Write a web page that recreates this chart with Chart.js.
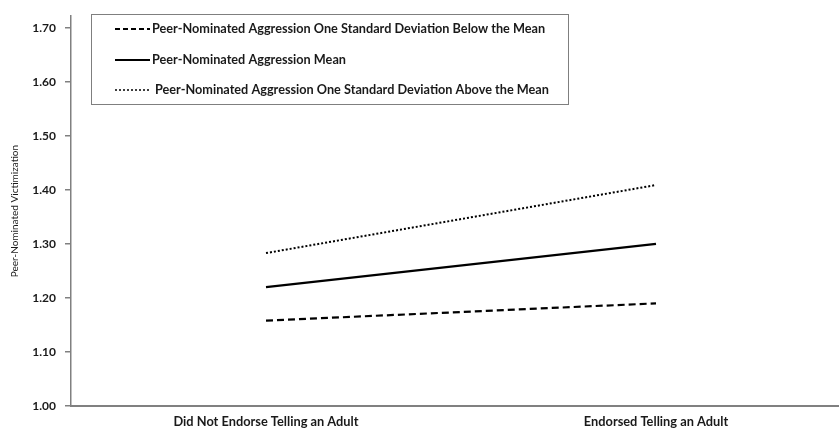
<!DOCTYPE html>
<html>
<head>
<meta charset="utf-8">
<script src="https://cdn.jsdelivr.net/npm/chart.js@4/dist/chart.umd.min.js"></script>
<style>
  html, body { margin: 0; padding: 0; background: #fff; }
  #wrap { width: 839px; height: 431px; overflow: hidden; position: relative; }
  #box { width: 870px; height: 431px; }
</style>
</head>
<body>
<div id="wrap"><div id="box"><canvas id="c" width="870" height="431"></canvas></div></div>
<script>
// Categories and series (peer-nominated victimization means)
const categories = ['Did Not Endorse Telling an Adult', 'Endorsed Telling an Adult'];
const seriesNames = [
  'Peer-Nominated Aggression One Standard Deviation Below the Mean',
  'Peer-Nominated Aggression Mean',
  'Peer-Nominated Aggression One Standard Deviation Above the Mean'
];
const belowMean = [1.158, 1.19];
const atMean = [1.22, 1.30];
const aboveMean = [1.283, 1.409];
const yTickValues = [1.0, 1.1, 1.2, 1.3, 1.4, 1.5, 1.6, 1.7];
const yAxisTitle = 'Peer-Nominated Victimization';

const FONT = 'Lato, "Open Sans", sans-serif';
const dashStyles = [[7, 4], [], [2, 2]];
const legendDash = [[5, 3], [], [2, 2]];

// Boxed legend drawn inside the plot area
const boxLegend = {
  id: 'boxLegend',
  afterDraw(chart) {
    const ctx = chart.ctx;
    ctx.save();
    ctx.strokeStyle = '#7f7f7f';
    ctx.lineWidth = 1;
    ctx.strokeRect(91.5, 14.5, 477, 90);
    const rows = [29, 60, 90];
    chart.data.datasets.forEach((ds, i) => {
      const y = rows[i];
      ctx.beginPath();
      ctx.setLineDash(legendDash[i]);
      ctx.lineWidth = i === 2 ? 1.5 : 2;
      ctx.strokeStyle = '#000';
      ctx.moveTo(115, y);
      ctx.lineTo(150, y);
      ctx.stroke();
      ctx.setLineDash([]);
      ctx.fillStyle = '#1a1a1a';
      ctx.font = 'bold 12.7px ' + FONT;
      ctx.textBaseline = 'middle';
      ctx.textAlign = 'left';
      ctx.fillText(ds.label, i === 2 ? 155 : 152, y);
    });
    ctx.restore();
  }
};

const mk = (label, data, i) => ({
  label, data,
  borderColor: '#000',
  borderWidth: i === 2 ? 2 : 2.2,
  borderDash: dashStyles[i],
  pointRadius: 0,
  fill: false,
  tension: 0
});

new Chart(document.getElementById('c'), {
  type: 'line',
  data: {
    labels: categories,
    datasets: [
      mk(seriesNames[0], belowMean, 0),
      mk(seriesNames[1], atMean, 1),
      mk(seriesNames[2], aboveMean, 2)
    ]
  },
  options: {
    responsive: false,
    animation: false,
    devicePixelRatio: 1,
    layout: { padding: { left: 0, right: 19, top: 4, bottom: 0 } },
    plugins: { legend: { display: false }, tooltip: { enabled: false } },
    scales: {
      x: {
        type: 'category',
        offset: true,
        grid: { display: false, drawTicks: false },
        border: { display: true, color: '#808080', width: 2 },
        ticks: {
          color: '#1a1a1a',
          font: { family: FONT, size: 12.8, weight: 'bold' },
          padding: 8,
          maxRotation: 0,
          autoSkip: false
        },
        afterFit(scale) { scale.height = 25; }
      },
      y: {
        min: 1.0,
        max: 1.7215,
        afterBuildTicks(scale) {
          scale.ticks = yTickValues.map(v => ({ value: v }));
        },
        grid: {
          drawOnChartArea: false,
          drawTicks: true,
          tickLength: 6,
          tickColor: '#808080',
          lineWidth: 1.5
        },
        border: { display: true, color: '#808080', width: 1.5 },
        ticks: {
          color: '#1a1a1a',
          font: { family: FONT, size: 12, weight: 'bold' },
          padding: 9,
          callback: v => Number(v).toFixed(2)
        },
        title: {
          display: true,
          text: yAxisTitle,
          color: '#1a1a1a',
          font: { family: FONT, size: 10 },
          padding: { top: 9, bottom: 0 }
        },
        afterFit(scale) { scale.width = 71; }
      }
    }
  },
  plugins: [boxLegend]
});
</script>
</body>
</html>
